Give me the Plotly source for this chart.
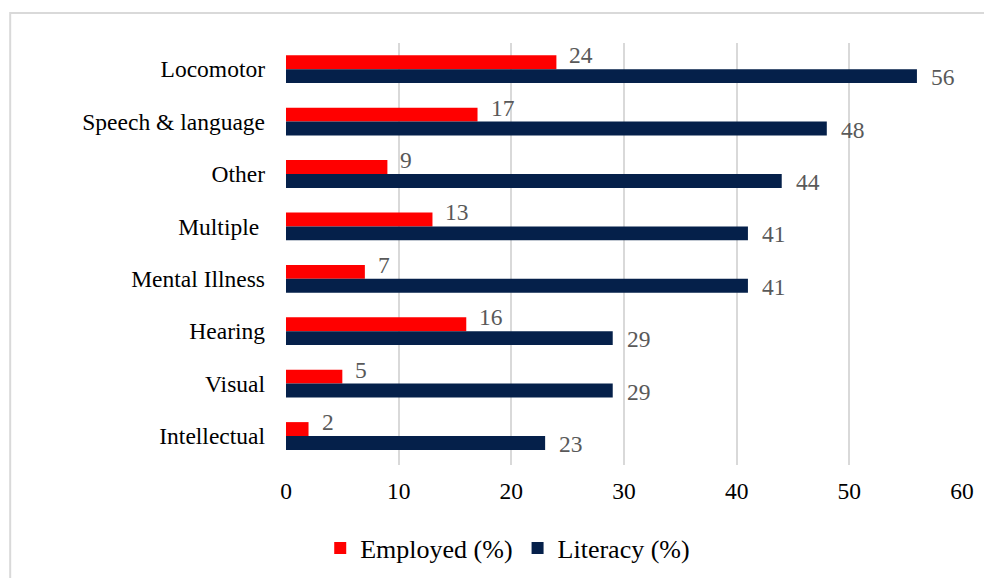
import plotly.graph_objects as go

categories = ["Locomotor", "Speech & language", "Other", "Multiple ", "Mental Illness",
              "Hearing", "Visual", "Intellectual"]
employed = [24, 17, 9, 13, 7, 16, 5, 2]
literacy = [56, 48, 44, 41, 41, 29, 29, 23]
x_ticks = [0, 10, 20, 30, 40, 50, 60]

font_family = "Liberation Serif, Times New Roman, serif"
fs = 23.5
label_font = dict(color="#595959", size=fs, family=font_family)

fig = go.Figure()
fig.add_trace(go.Bar(
    y=categories, x=employed, orientation="h", name="Employed (%)",
    marker=dict(color="#FF0000", line=dict(width=0)),
))
fig.add_trace(go.Bar(
    y=categories, x=literacy, orientation="h", name="Literacy (%)",
    marker=dict(color="#05204A", line=dict(width=0)),
))

# data labels, placed like the Excel original (red ones sit a bit above their bar)
for cat, e, l in zip(categories, employed, literacy):
    fig.add_annotation(x=e, y=cat, text=str(e), showarrow=False, xanchor="left",
                       yanchor="middle", xshift=11, yshift=14, font=label_font)
    fig.add_annotation(x=l, y=cat, text=str(l), showarrow=False, xanchor="left",
                       yanchor="middle", xshift=12, yshift=-8, font=label_font)

fig.update_layout(
    width=984, height=570,
    margin=dict(l=278, r=30, t=35, b=113, autoexpand=False),
    paper_bgcolor="white", plot_bgcolor="white",
    barmode="group", bargap=0.47, bargroupgap=0,
    font=dict(family=font_family, size=fs, color="#000000"),
    xaxis=dict(range=[0, 60], tickvals=x_ticks, showgrid=True, gridcolor="#d9d9d9",
               gridwidth=1.5, zeroline=False, showline=False, ticklabelstandoff=9,
               tickfont=dict(size=fs), automargin=False),
    yaxis=dict(autorange="reversed", showgrid=False, showline=False, zeroline=False,
               ticklabelstandoff=20, tickfont=dict(size=fs), automargin=False),
    legend=dict(orientation="h", x=0.328, xanchor="center", y=-0.197, yanchor="middle",
                font=dict(size=26), itemwidth=30, traceorder="normal"),
    showlegend=True,
)

# light frame around the chart area
fig.add_shape(type="rect", xref="paper", yref="paper",
              x0=-0.408, x1=1.06, y0=-0.3, y1=1.071,
              line=dict(color="#d9d9d9", width=2), layer="below")

fig.write_html("out.html")
